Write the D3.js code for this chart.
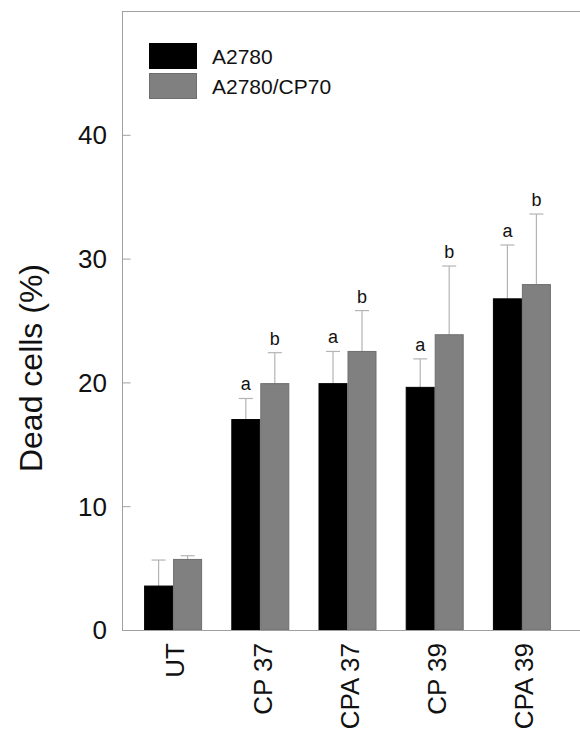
<!DOCTYPE html>
<html><head><meta charset="utf-8">
<script src="https://cdn.jsdelivr.net/npm/d3@7"></script>
<style>body{margin:0;background:#fff}svg{display:block;font-family:"Liberation Sans",Arial,sans-serif}</style>
</head><body>
<svg id="c" width="580" height="736"></svg>
<script>
const categories = ["UT", "CP 37", "CPA 37", "CP 39", "CPA 39"];
const seriesNames = ["A2780", "A2780/CP70"];
const a2780 = [3.55, 17.0, 19.9, 19.6, 26.75];
const a2780Err = [2.1, 1.7, 2.6, 2.3, 4.35];
const cp70 = [5.7, 19.9, 22.5, 23.85, 27.9];
const cp70Err = [0.3, 2.5, 3.3, 5.55, 5.7];
const a2780Sig = ["", "a", "a", "a", "a"];
const cp70Sig = ["", "b", "b", "b", "b"];
const yTicks = [0, 10, 20, 30, 40];

const svg = d3.select("#c");
const L = 122, R = 580, T = 11, B = 630;
const y = d3.scaleLinear().domain([0, 50]).range([B, T]);
const x = d3.scaleBand().domain(categories).range([129.5, 565.5]).paddingInner(0.335).paddingOuter(0.1675);
const xs = d3.scaleBand().domain(seriesNames).range([0, x.bandwidth()]);
const colors = ["#000000", "#808080"];
const strokes = ["#000000", "#6e6e6e"];

// frame
svg.append("line").attr("x1", L).attr("x2", R).attr("y1", T + 0.5).attr("y2", T + 0.5).attr("stroke", "#a0a0a0");
const yAxis = d3.axisRight(y).tickValues(yTicks).tickSize(8).tickFormat("");
const gy = svg.append("g").attr("transform", `translate(${L + 0.5},0)`).call(yAxis);
gy.select(".domain").attr("stroke", "#a0a0a0").attr("d", `M0,${T}V${B}`);
gy.selectAll(".tick line").attr("stroke", "#a0a0a0");
yTicks.forEach(t => {
  svg.append("text").attr("x", 107).attr("y", y(t)).attr("dy", "0.36em")
    .attr("text-anchor", "end").attr("font-size", 26).attr("fill", "#111").text(t);
});

const series = [
  {name: seriesNames[0], vals: a2780, err: a2780Err, sig: a2780Sig},
  {name: seriesNames[1], vals: cp70, err: cp70Err, sig: cp70Sig}
];
series.forEach((s, si) => {
  const g = svg.append("g");
  categories.forEach((c, i) => {
    const x0 = x(c) + xs(s.name);
    const w = xs.bandwidth();
    const cx = x0 + w / 2;
    const top = y(s.vals[i] + s.err[i]);
    g.append("line").attr("x1", cx).attr("x2", cx).attr("y1", y(s.vals[i])).attr("y2", top)
      .attr("stroke", "#b4b4b4").attr("stroke-width", 1.2);
    g.append("line").attr("x1", cx - 7).attr("x2", cx + 7).attr("y1", top).attr("y2", top)
      .attr("stroke", "#b4b4b4").attr("stroke-width", 1.2);
    g.append("rect").attr("x", x0 + 0.5).attr("y", y(s.vals[i])).attr("width", w - 1)
      .attr("height", y(0) - y(s.vals[i])).attr("fill", colors[si]).attr("stroke", strokes[si]).attr("stroke-width", 1);
    if (s.sig[i]) {
      g.append("text").attr("x", cx).attr("y", top - 8).attr("text-anchor", "middle")
        .attr("font-size", 18).attr("fill", "#111").text(s.sig[i]);
    }
  });
});

// bottom axis line
svg.append("line").attr("x1", L).attr("x2", R).attr("y1", B + 0.5).attr("y2", B + 0.5).attr("stroke", "#a0a0a0");

// x labels
categories.forEach(c => {
  const cx = x(c) + x.bandwidth() / 2 + 2;
  svg.append("text").attr("transform", `translate(${cx},643) rotate(-90)`)
    .attr("text-anchor", "end").attr("dy", "0.36em").attr("font-size", 26).attr("fill", "#111").text(c);
});

// y title
svg.append("text").attr("transform", "translate(30,368) rotate(-90)")
  .attr("text-anchor", "middle").attr("dy", "0.36em").attr("font-size", 32).attr("fill", "#111").text("Dead cells (%)");

// legend
seriesNames.forEach((n, i) => {
  svg.append("rect").attr("x", 149.5).attr("y", 43.5 + i * 30).attr("width", 47).attr("height", 25)
    .attr("fill", colors[i]).attr("stroke", i ? "#6e6e6e" : "#000");
  svg.append("text").attr("x", 212).attr("y", 56 + i * 30).attr("dy", "0.36em")
    .attr("font-size", 21).attr("fill", "#111").text(n);
});
</script>
</body></html>
